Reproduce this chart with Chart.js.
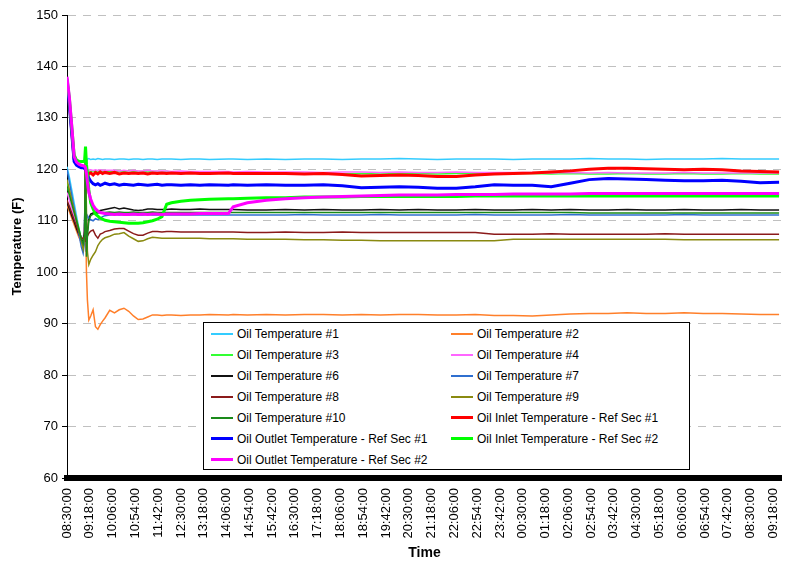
<!DOCTYPE html>
<html>
<head>
<meta charset="utf-8">
<script src="https://cdn.jsdelivr.net/npm/chart.js@4.4.0/dist/chart.umd.min.js"></script>
<style>
  body { margin: 0; background: #fff; font-family: "Liberation Sans", Arial, sans-serif; }
  #wrap { position: relative; width: 799px; height: 562px; }
  #legend {
    position: absolute; left: 203px; top: 322px; width: 487px; height: 148px; box-sizing: border-box;
    border: 1px solid #000; background: #fff;
    display: grid; grid-template-columns: 240px 245px; grid-auto-rows: 21px; align-content: start;
    font-size: 12px; color: #000;
  }
  .item { display: flex; align-items: center; white-space: nowrap; }
  .sw { width: 22px; margin: 0 4px 0 7px; }
</style>
</head>
<body>
<div id="wrap">
  <canvas id="c" width="799" height="562"></canvas>
  <div id="legend"></div>
</div>
<script>
// minutes after 08:30:00
const minutes = [0,5,10,15,20,25,30, 34,37,39,41,43,46, 50,55,60,65,70,75,80,
  90,100,110,120,130,140,150,160,170,180,190,200,210,220, 240,260,280,300, 340,350,380,
  420,460,500,540,580,620,660,700,740,780,820,860,900,940,980,1020,1060,1100,1140,1180,1220,1260,1300,1340,1380,1420,1460,1500];

const tickMinutes = [0,48,96,144,192,240,288,336,384,432,480,528,576,624,672,720,768,816,864,912,960,1008,1056,1104,1152,1200,1248,1296,1344,1392,1440,1488];
const tickLabels = ['08:30:00','09:18:00','10:06:00','10:54:00','11:42:00','12:30:00','13:18:00','14:06:00','14:54:00','15:42:00',
  '16:30:00','17:18:00','18:06:00','18:54:00','19:42:00','20:30:00','21:18:00','22:06:00','22:54:00','23:42:00',
  '00:30:00','01:18:00','02:06:00','02:54:00','03:42:00','04:30:00','05:18:00','06:06:00','06:54:00','07:42:00','08:30:00','09:18:00'];

const oil1 = [120.5,118.5,116.0,113.5,111.0,108.5,106.5, 105.5,110.0,118.0,121.5,122.0,122.1, 121.9,122.0,121.9,122.1,122.0,121.9,122.0,
  122.0,121.9,122.0,122.0,121.9,122.0,122.0,121.9,122.0,122.0,121.9,122.0,122.0,122.0, 121.9,122.0,122.0,121.9, 122.0,122.0,121.9,
  122.0,121.9,122.0,122.0,121.9,122.0,122.0,122.1,122.0,121.9,122.0,122.0,122.0,121.9,122.0,122.0,122.0,122.1,122.0,122.0,121.9,122.0,122.0,122.0,122.1,122.0,122.0,122.0];
const oil2 = [113.0,111.8,110.5,109.3,108.0,106.8,105.8, 105.5,106.0,112.0,100.0,94.6,90.7, 91.5,92.7,89.4,88.9,89.8,90.5,91.1,
  92.6,92.1,92.7,93.0,92.4,91.5,90.8,90.9,91.3,91.7,91.7,91.6,91.7,91.7, 91.6,91.7,91.7,91.8, 91.7,91.8,91.7,
  91.8,91.7,91.8,91.8,91.7,91.8,91.7,91.8,91.8,91.7,91.7,91.8,91.6,91.6,91.5,91.7,91.9,92.0,92.0,92.1,92.0,92.0,92.1,92.0,92.0,91.9,91.8,91.8];
const oil3 = [117.5,115.8,114.0,112.2,110.3,108.5,106.5, 105.0,110.0,118.0,119.5,119.7,119.7, 119.6,119.7,119.6,119.7,119.6,119.7,119.6,
  119.6,119.7,119.6,119.6,119.7,119.6,119.6,119.6,119.5,119.6,119.6,119.5,119.6,119.5, 119.5,119.5,119.4,119.4, 119.4,119.3,119.3,
  119.3,119.2,119.2,119.2,119.1,119.2,119.1,119.2,119.2,119.1,119.2,119.2,119.1,119.2,119.2,119.1,119.2,119.1,119.1,119.2,119.1,119.1,119.2,119.1,119.1,119.2,119.1,119.1];
const oil4 = [115.5,114.0,112.5,110.8,109.0,107.3,105.8, 105.5,110.0,119.0,120.0,120.0,119.9, 119.9,119.8,119.9,119.8,119.9,119.8,119.8,
  119.8,119.8,119.7,119.8,119.7,119.8,119.7,119.7,119.8,119.7,119.7,119.7,119.7,119.6, 119.7,119.6,119.6,119.6, 119.6,119.5,119.6,
  119.5,119.5,119.5,119.4,119.5,119.5,119.4,119.5,119.4,119.4,119.5,119.4,119.4,119.4,119.4,119.3,119.4,119.3,119.4,119.3,119.3,119.3,119.4,119.3,119.3,119.3,119.3,119.3];
const oil6 = [113.5,112.3,111.0,109.8,108.5,107.3,106.3, 106.0,108.0,124.0,104.0,108.0,110.5, 111.3,111.5,111.6,111.8,112.0,112.1,112.2,
  112.4,112.6,112.3,112.5,112.3,112.1,112.0,112.1,112.3,112.3,112.2,112.2,112.2,112.3, 112.2,112.2,112.3,112.2, 112.2,112.2,112.1,
  112.1,112.2,112.1,112.2,112.1,112.1,112.2,112.1,112.2,112.1,112.1,112.2,112.1,112.1,112.2,112.1,112.2,112.1,112.1,112.2,112.1,112.1,112.2,112.1,112.1,112.2,112.1,112.1];
const oil7 = [120.0,117.5,115.0,112.5,110.0,107.5,105.0, 103.7,106.0,112.0,110.0,111.0,110.5, 110.2,110.0,110.4,110.2,110.5,110.8,111.0,
  111.1,111.2,111.1,111.2,111.1,111.2,111.1,111.1,111.2,111.1,111.1,111.2,111.1,111.1, 111.1,111.1,111.1,111.1, 111.1,111.1,111.1,
  111.1,111.1,111.2,111.1,111.1,111.1,111.2,111.1,111.1,111.1,111.1,111.2,111.1,111.1,111.1,111.1,111.2,111.1,111.1,111.1,111.1,111.1,111.2,111.1,111.1,111.1,111.1,111.1];
const oil8 = [114.0,112.8,111.5,110.2,109.0,107.8,106.8, 106.5,107.0,106.0,106.0,107.0,107.6, 108.0,108.2,107.2,106.6,107.4,107.6,107.9,
  108.1,108.4,108.5,108.5,108.0,107.5,107.2,107.2,107.6,107.9,107.9,107.8,107.9,107.9, 107.8,107.8,107.8,107.8, 107.8,107.8,107.7,
  107.7,107.8,107.7,107.7,107.8,107.7,107.7,107.7,107.7,107.7,107.7,107.7,107.4,107.4,107.4,107.5,107.4,107.4,107.4,107.4,107.4,107.5,107.4,107.4,107.4,107.4,107.4,107.4];
const oil9 = [118.0,116.0,114.0,112.0,110.1,108.1,106.1, 104.5,107.0,123.0,112.0,104.0,101.5, 102.5,103.3,104.0,105.2,105.9,106.4,106.7,
  107.0,107.4,107.5,107.7,107.0,106.5,106.0,106.1,106.5,106.8,106.7,106.6,106.6,106.6, 106.6,106.6,106.6,106.5, 106.5,106.5,106.4,
  106.4,106.4,106.3,106.3,106.2,106.2,106.1,106.1,106.1,106.1,106.1,106.1,106.1,106.4,106.4,106.4,106.4,106.4,106.4,106.4,106.4,106.4,106.3,106.3,106.3,106.3,106.3,106.3];
const oil10 = [116.5,115.0,113.3,111.6,110.0,108.3,106.5, 105.5,107.0,124.0,103.0,107.0,110.0, 111.0,111.3,111.4,111.5,111.6,111.6,111.6,
  111.7,111.6,111.7,111.6,111.6,111.7,111.6,111.6,111.6,111.7,111.6,111.6,111.6,111.6, 111.6,111.6,111.6,111.6, 111.6,111.6,111.6,
  111.6,111.6,111.6,111.6,111.6,111.6,111.6,111.6,111.6,111.6,111.6,111.6,111.6,111.6,111.6,111.6,111.6,111.5,111.5,111.5,111.5,111.5,111.5,111.5,111.5,111.5,111.5,111.5];
const inletSec1 = [137.2,133.0,127.5,122.0,121.1,120.8,120.6, 120.5,120.4,120.0,119.5,118.6,119.2, 119.3,118.9,119.4,119.1,119.5,119.2,119.4,
  119.2,119.4,119.1,119.3,119.2,119.3,119.2,119.3,119.1,119.3,119.2,119.3,119.2,119.3, 119.2,119.3,119.2,119.2, 119.3,119.2,119.2,
  119.2,119.2,119.1,119.2,119.0,118.7,118.8,118.9,118.8,118.6,118.6,118.9,119.1,119.2,119.3,119.5,119.7,120.0,120.2,120.2,120.1,120.0,119.9,120.0,119.9,119.7,119.6,119.5];
const outletSec1 = [137.0,132.5,127.0,121.5,120.8,120.5,120.3, 120.3,120.2,120.0,119.6,119.0,118.3, 117.7,117.2,117.0,117.2,116.9,117.1,117.3,
  117.0,117.2,116.9,117.1,117.0,116.9,117.1,117.0,116.9,117.0,117.1,116.9,117.0,117.0, 116.9,117.0,116.9,117.0, 116.9,117.0,116.9,
  117.0,116.9,116.9,117.0,116.8,116.4,116.5,116.6,116.5,116.3,116.3,116.6,117.0,116.9,116.9,116.6,117.3,118.0,118.2,118.1,118.0,117.9,117.8,117.8,117.9,117.7,117.4,117.5];
const inletSec2 = [137.6,133.8,128.3,122.8,121.8,121.6,121.5, 121.5,121.6,124.4,121.0,119.0,116.0, 113.5,112.3,111.3,110.9,110.5,110.3,110.1,
  109.9,109.8,109.7,109.6,109.5,109.5,109.5,109.6,109.8,110.0,110.3,110.8,113.2,113.5, 113.8,114.0,114.1,114.2, 114.3,114.3,114.4,
  114.5,114.5,114.6,114.6,114.6,114.7,114.7,114.7,114.7,114.7,114.7,114.8,114.8,114.8,114.8,114.8,114.8,114.8,114.8,114.8,114.8,114.8,114.8,114.8,114.8,114.8,114.8,114.8];
const outletSec2 = [138.0,134.0,128.5,122.5,121.4,121.0,120.8, 120.7,120.6,120.3,119.2,117.5,115.5, 114.2,113.0,112.3,111.9,111.6,111.5,111.4,
  111.3,111.2,111.3,111.2,111.2,111.3,111.2,111.3,111.2,111.3,111.3,111.2,111.3,111.3, 111.3,111.3,111.4,111.4, 111.4,112.7,113.5,
  114.0,114.3,114.5,114.6,114.7,114.8,114.9,115.0,115.0,115.0,115.1,115.1,115.1,115.2,115.2,115.2,115.2,115.3,115.3,115.3,115.3,115.3,115.3,115.3,115.3,115.3,115.3,115.3];

const series = [
  { label: 'Oil Temperature #1', values: oil1, color: '#33CCFF', width: 1.5 },
  { label: 'Oil Temperature #2', values: oil2, color: '#FF7F2A', width: 1.5 },
  { label: 'Oil Temperature #3', values: oil3, color: '#33FF33', width: 1.5 },
  { label: 'Oil Temperature #4', values: oil4, color: '#FF66FF', width: 1.5 },
  { label: 'Oil Temperature #6', values: oil6, color: '#111111', width: 1.5 },
  { label: 'Oil Temperature #7', values: oil7, color: '#2F6FCF', width: 1.5 },
  { label: 'Oil Temperature #8', values: oil8, color: '#8B1A1A', width: 1.5 },
  { label: 'Oil Temperature #9', values: oil9, color: '#8A8A10', width: 1.5 },
  { label: 'Oil Temperature #10', values: oil10, color: '#1A8A1A', width: 1.5 },
  { label: 'Oil Inlet Temperature - Ref Sec #1', values: inletSec1, color: '#FF0000', width: 3 },
  { label: 'Oil Outlet Temperature - Ref Sec #1', values: outletSec1, color: '#0000FF', width: 3 },
  { label: 'Oil Inlet Temperature - Ref Sec #2', values: inletSec2, color: '#00FF00', width: 3 },
  { label: 'Oil Outlet Temperature - Ref Sec #2', values: outletSec2, color: '#FF00FF', width: 3 }
];

const FONT = '"Liberation Sans", Arial, sans-serif';

const chart = new Chart(document.getElementById('c'), {
  type: 'line',
  data: {
    datasets: series.map((s, i) => ({
      label: s.label,
      data: minutes.map((m, j) => ({ x: m, y: s.values[j] })),
      borderColor: s.color,
      backgroundColor: s.color,
      borderWidth: s.width,
      pointRadius: 0,
      tension: 0,
      order: series.length - i
    }))
  },
  options: {
    responsive: false,
    animation: false,
    layout: { padding: { top: 15, right: 1, left: 0, bottom: 0 } },
    plugins: { legend: { display: false }, tooltip: { enabled: false } },
    scales: {
      x: {
        type: 'linear',
        min: 0,
        max: 1506,
        afterBuildTicks: s => { s.ticks = tickMinutes.map(v => ({ value: v })); },
        afterFit: s => { s.height = 84; },
        grid: { display: false, drawTicks: false },
        border: { display: true, color: '#000', width: 6 },
        ticks: {
          autoSkip: false, maxRotation: 90, minRotation: 90, padding: 10, color: '#000',
          font: { family: FONT, size: 13 },
          callback: (v, i) => tickLabels[i]
        },
        title: { display: true, text: 'Time', color: '#000', font: { family: FONT, size: 14, weight: 'bold' }, padding: 0 }
      },
      y: {
        min: 60,
        max: 150,
        afterFit: s => { s.width = 67; },
        ticks: { stepSize: 10, color: '#000', padding: 4, font: { family: FONT, size: 13 } },
        grid: { color: '#c0c0c0', tickColor: '#000', tickLength: 5, lineWidth: 1 },
        border: { color: '#000', width: 1, dash: [8, 7] },
        title: { display: true, text: 'Temperature (F)', color: '#000', font: { family: FONT, size: 13, weight: 'bold' }, padding: { top: 10, bottom: 0 } }
      }
    }
  }
});

// legend box in two columns, like the original
const legend = document.getElementById('legend');
series.forEach(s => {
  const item = document.createElement('div');
  item.className = 'item';
  item.innerHTML = '<span class="sw" style="border-top:' + (s.width === 3 ? 3 : 2) + 'px solid ' + s.color + '"></span>' + s.label;
  legend.appendChild(item);
});
</script>
</body>
</html>
